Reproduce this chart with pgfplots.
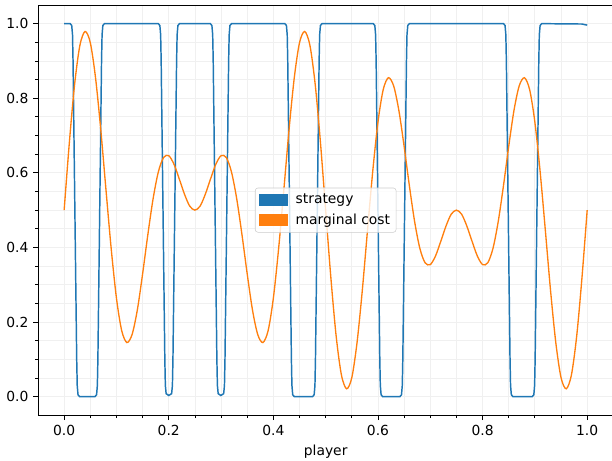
\documentclass[border=0pt]{standalone}
\usepackage{fontspec}
\setmainfont{DejaVu Sans}
\usepackage{pgfplots}
\pgfplotsset{compat=1.18}
\definecolor{mplblue}{HTML}{1F77B4}
\definecolor{mplorange}{HTML}{FF7F0E}
\definecolor{gridc}{HTML}{F0F0F0}
\begin{document}
\begin{tikzpicture}
\begin{axis}[
  scale only axis, width=431.5pt, height=307.7pt,
  xmin=-0.05, xmax=1.05, ymin=-0.05, ymax=1.05,
  xtick={0,0.2,0.4,0.6,0.8,1}, ytick={0,0.2,0.4,0.6,0.8,1},
  minor tick num=3,
  tick align=outside, tick pos=left,
  major tick length=3.65pt, minor tick length=2.08pt,
  every tick/.style={black, line width=0.6pt},
  grid=both,
  major grid style={gridc, line width=0.6pt},
  minor grid style={gridc, line width=0.6pt},
  axis line style={line width=0.7pt},
  ticklabel style={font=\fontsize{10.4}{12}\selectfont},
  /pgf/number format/fixed,
  /pgf/number format/fixed zerofill,
  /pgf/number format/precision=1,
  /pgf/number format/assume math mode=true,
  xlabel={player},
  xlabel style={font=\fontsize{10.4}{12}\selectfont},
  legend style={at={(0.5,0.5)}, anchor=center, draw=black!20, rounded corners=2pt,
    fill=white, fill opacity=0.8, text opacity=1, draw opacity=1,
    font=\fontsize{10.4}{12}\selectfont, inner sep=2.5pt, row sep=2pt, column sep=4pt},
  legend cell align=left,
]
\addplot[mplblue, line width=1.1pt,
  legend image code/.code={\fill[mplblue, sharp corners, fill opacity=1] (0pt,-3.75pt) rectangle (20.7pt,3.75pt);}]
coordinates {
(0,1.0)(0.005,1.0)
(0.0115,1.0)(0.0145,0.995)(0.016,0.97)(0.017,0.9)(0.0205,0.5)(0.024,0.1)(0.025,0.03)(0.0265,0.005)(0.0295,0.0)
(0.059,0.0)(0.062,0.005)(0.0635,0.03)(0.0645,0.1)(0.068,0.5)(0.0715,0.9)(0.0725,0.97)(0.074,0.995)(0.077,1.0)
(0.180,1.0)(0.183,0.995)(0.1845,0.97)(0.1855,0.9)(0.189,0.5)(0.1925,0.1)(0.1935,0.03)(0.195,0.008)(0.2,0.003)
(0.2055,0.008)(0.207,0.03)(0.208,0.1)(0.2115,0.5)(0.215,0.9)(0.216,0.97)(0.2175,0.995)(0.2205,1.0)
(0.2795,1.0)(0.2825,0.995)(0.284,0.97)(0.285,0.9)(0.2885,0.5)(0.292,0.1)(0.293,0.03)(0.2945,0.008)(0.2995,0.003)
(0.305,0.008)(0.3065,0.03)(0.3075,0.1)(0.311,0.5)(0.3145,0.9)(0.3155,0.97)(0.317,0.995)(0.32,1.0)
(0.422,1.0)(0.425,0.995)(0.4265,0.97)(0.4275,0.9)(0.431,0.5)(0.4345,0.1)(0.4355,0.03)(0.437,0.005)(0.44,0.0)
(0.475,0.0)(0.478,0.005)(0.4795,0.03)(0.4805,0.1)(0.484,0.5)(0.4875,0.9)(0.4885,0.97)(0.49,0.995)(0.493,1.0)
(0.591,1.0)(0.594,0.995)(0.5955,0.97)(0.5965,0.9)(0.600,0.5)(0.6035,0.1)(0.6045,0.03)(0.606,0.005)(0.609,0.0)
(0.642,0.0)(0.645,0.005)(0.6465,0.03)(0.6475,0.1)(0.651,0.5)(0.6545,0.9)(0.6555,0.97)(0.657,0.995)(0.660,1.0)
(0.840,1.0)(0.843,0.995)(0.8445,0.97)(0.8455,0.9)(0.849,0.5)(0.8525,0.1)(0.8535,0.03)(0.855,0.005)(0.858,0.0)
(0.895,0.0)(0.898,0.005)(0.8995,0.03)(0.9005,0.1)(0.904,0.5)(0.9075,0.9)(0.9085,0.97)(0.910,0.995)(0.913,1.0)
(0.99,0.999)(1.0,0.996)
};
\addlegendentry{strategy}
\addplot[mplorange, line width=1.0pt, smooth,
  legend image code/.code={\fill[mplorange, sharp corners, fill opacity=1] (0pt,-3.75pt) rectangle (20.7pt,3.75pt);}]
coordinates {
(0.00,0.500)(0.01,0.682)(0.02,0.837)(0.03,0.941)(0.04,0.979)(0.05,0.949)(0.06,0.855)(0.07,0.716)(0.08,0.554)(0.09,0.396)
(0.10,0.264)(0.11,0.177)(0.12,0.145)(0.13,0.167)(0.14,0.233)(0.15,0.329)(0.16,0.434)(0.17,0.530)(0.18,0.602)(0.19,0.641)
(0.20,0.646)(0.21,0.623)(0.22,0.584)(0.23,0.543)(0.24,0.511)(0.25,0.500)(0.26,0.511)(0.27,0.543)(0.28,0.584)(0.29,0.623)
(0.30,0.646)(0.31,0.641)(0.32,0.602)(0.33,0.530)(0.34,0.434)(0.35,0.329)(0.36,0.233)(0.37,0.167)(0.38,0.145)(0.39,0.177)
(0.40,0.264)(0.41,0.396)(0.42,0.554)(0.43,0.716)(0.44,0.855)(0.45,0.949)(0.46,0.979)(0.47,0.941)(0.48,0.837)(0.49,0.682)
(0.50,0.500)(0.51,0.318)(0.52,0.163)(0.53,0.059)(0.54,0.021)(0.55,0.051)(0.56,0.145)(0.57,0.284)(0.58,0.446)(0.59,0.604)
(0.60,0.736)(0.61,0.823)(0.62,0.855)(0.63,0.833)(0.64,0.767)(0.65,0.671)(0.66,0.566)(0.67,0.470)(0.68,0.398)(0.69,0.359)
(0.70,0.354)(0.71,0.377)(0.72,0.416)(0.73,0.457)(0.74,0.489)(0.75,0.500)(0.76,0.489)(0.77,0.457)(0.78,0.416)(0.79,0.377)
(0.80,0.354)(0.81,0.359)(0.82,0.398)(0.83,0.470)(0.84,0.566)(0.85,0.671)(0.86,0.767)(0.87,0.833)(0.88,0.855)(0.89,0.823)
(0.90,0.736)(0.91,0.604)(0.92,0.446)(0.93,0.284)(0.94,0.145)(0.95,0.051)(0.96,0.021)(0.97,0.059)(0.98,0.163)(0.99,0.318)
(1.00,0.500)
};
\addlegendentry{marginal cost}
\end{axis}
\pgfresetboundingbox
\path ([shift={(-28.5pt,-34.3pt)}]current axis.south west) rectangle ([shift={(430.5pt,311.45pt)}]current axis.south west);
\end{tikzpicture}
\end{document}
